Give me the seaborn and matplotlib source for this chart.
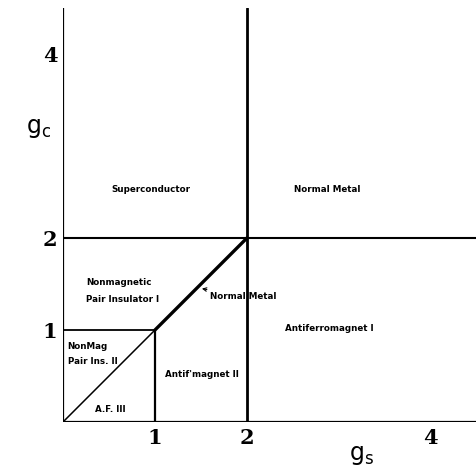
import matplotlib
matplotlib.use("Agg")
import matplotlib.pyplot as plt
import seaborn as sns
import pandas as pd

sns.set_theme(style="white")
plt.rcParams['font.family'] = ['DejaVu Sans']
plt.rcParams['text.color'] = 'black'
plt.rcParams['xtick.color'] = 'black'
plt.rcParams['ytick.color'] = 'black'

# Phase boundary segments (g_s, g_c endpoints)
seg_names = ["axis_y", "axis_x", "vert_2", "horiz_2", "diag_lo", "diag_hi", "sq_top", "sq_right"]
seg_x0 = [0, 0, 2, 0, 0, 1, 0, 1]
seg_y0 = [0, 0, 0, 2, 0, 1, 1, 0]
seg_x1 = [0, 4.5, 2, 4.5, 1, 2, 1, 1]
seg_y1 = [4.5, 0, 4.5, 2, 1, 2, 1, 1]
seg_w = [1.6, 1.6, 2.0, 1.5, 1.1, 2.4, 1.3, 1.6]

# Region labels
region_text = ["Superconductor", "Normal Metal", "Nonmagnetic", "Pair Insulator I",
               "NonMag", "Pair Ins. II", "A.F. III", "Antif'magnet II", "Antiferromagnet I"]
region_x = [0.95, 2.87, 0.25, 0.25, 0.05, 0.05, 0.51, 1.51, 2.89]
region_y = [2.53, 2.53, 1.52, 1.33, 0.82, 0.66, 0.14, 0.52, 1.02]
region_ha = ["center", "center", "left", "left", "left", "left", "center", "center", "center"]

tick_vals_x = [1, 2, 4]
tick_vals_y = [1, 2, 4]

rows = []
for n, x0, y0, x1, y1 in zip(seg_names, seg_x0, seg_y0, seg_x1, seg_y1):
    rows.append(dict(seg=n, gs=x0, gc=y0, order=0))
    rows.append(dict(seg=n, gs=x1, gc=y1, order=1))
df = pd.DataFrame(rows)

fig = plt.figure(figsize=(4.76, 4.71), dpi=100)
ax = fig.add_axes([63/476, 49/471, 413/476, 414/471])

for n, w in zip(seg_names, seg_w):
    sub = df[df.seg == n]
    sns.lineplot(data=sub, x="gs", y="gc", sort=False, estimator=None,
                 color="black", linewidth=w, ax=ax, legend=False)

ax.set_xlim(0, 4.49)
ax.set_ylim(0, 4.5)
for s in ax.spines.values():
    s.set_visible(False)

ax.set_xticks(tick_vals_x)
ax.set_yticks(tick_vals_y)
ax.set_xticklabels([str(v) for v in tick_vals_x], family="DejaVu Serif", fontsize=15, fontweight="semibold")
ax.set_yticklabels([str(v) for v in tick_vals_y], family="DejaVu Serif", fontsize=15, fontweight="semibold")
ax.tick_params(length=0, pad=4)
ax.set_xlabel("")
ax.set_ylabel("")

for t, x, y, ha in zip(region_text, region_x, region_y, region_ha):
    ax.text(x, y, t, ha=ha, va="center", fontsize=6.3, fontweight="bold", color="black")

ax.annotate("Normal Metal", xy=(1.51, 1.45), xytext=(1.6, 1.36),
            fontsize=6.3, fontweight="bold", va="center", ha="left", color="black",
            arrowprops=dict(arrowstyle="->", color="black", lw=0.8,
                            shrinkA=0, shrinkB=0))

ax.text(-0.27, 3.2, r"$\mathregular{g_c}$", fontsize=17, ha="center", va="center", color="black")
ax.text(3.25, -0.36, r"$\mathregular{g_s}$", fontsize=17, ha="center", va="center", color="black")
ax.grid(False)

fig.savefig("out.png", dpi=100)
